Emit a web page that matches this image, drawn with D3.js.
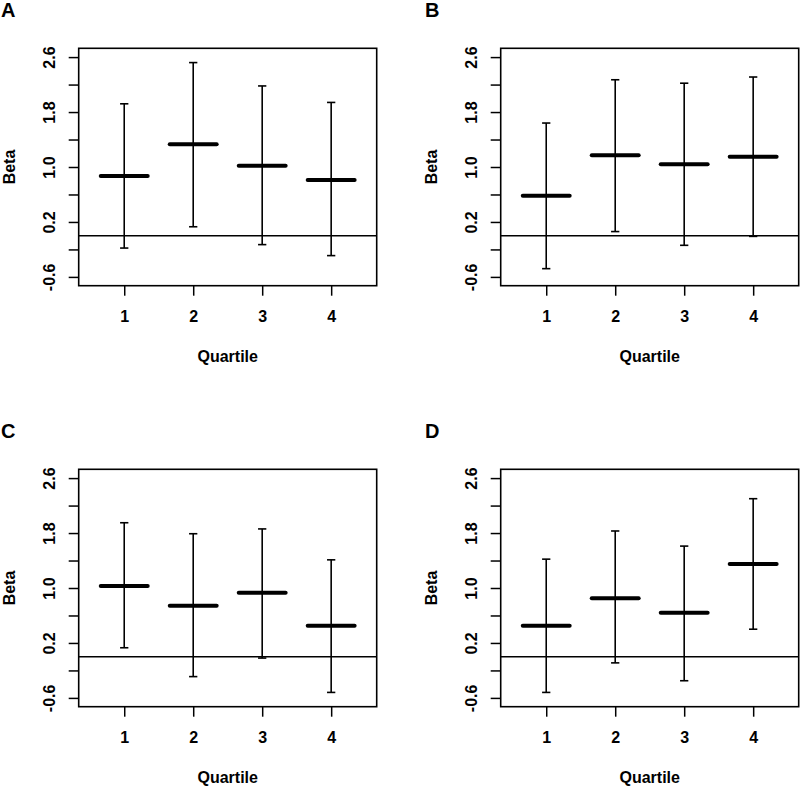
<!DOCTYPE html>
<html lang="en">
<head>
    <meta charset="UTF-8">
    <script src="https://d3js.org/d3.v7.min.js"></script>
    <title>Beta by Quartile</title>
    <style>
        body { margin: 0; background: #fff; }
        text { font-family: "Liberation Sans", Arial, sans-serif; font-weight: bold; fill: #000; }
        .box { fill: none; stroke: #000; stroke-width: 1.6px; }
        .ref { stroke: #000; stroke-width: 1.5px; }
        .whisker { stroke: #000; stroke-width: 1.6px; }
        .est { stroke: #000; stroke-width: 4px; stroke-linecap: round; }
        .axis line { stroke: #000; stroke-width: 1.5px; }
    </style>
</head>
<body>
<svg id="chart" width="800" height="786"></svg>
<script>

// data
var panels = ["A", "B", "C", "D"];
var quartiles = [1, 2, 3, 4];

var estA = [0.87, 1.33, 1.02, 0.81];
var lowA = [-0.18, 0.13, -0.13, -0.29];
var highA = [1.92, 2.52, 2.18, 1.94];

var estB = [0.58, 1.17, 1.04, 1.15];
var lowB = [-0.48, 0.06, -0.14, -0.01];
var highB = [1.64, 2.27, 2.22, 2.31];

var estC = [1.03, 0.74, 0.93, 0.45];
var lowC = [0.13, -0.29, -0.02, -0.52];
var highC = [1.95, 1.79, 1.86, 1.41];

var estD = [0.45, 0.85, 0.64, 1.35];
var lowD = [-0.52, -0.09, -0.35, 0.40];
var highD = [1.42, 1.83, 1.61, 2.30];

var yTicks = [-0.6, -0.2, 0.2, 0.6, 1.0, 1.4, 1.8, 2.2, 2.6];
var yLabels = ["-0.6", "", "0.2", "", "1.0", "", "1.8", "", "2.6"];

var allEst = [estA, estB, estC, estD];
var allLow = [lowA, lowB, lowC, lowD];
var allHigh = [highA, highB, highC, highD];

// layout
var boxW = 298, boxH = 237.4;
var boxLeft = 78.7, boxTop = 48.3;
var panelDX = 422, panelDY = 421;

var x = d3.scaleLinear().domain([0.34, 4.66]).range([0, boxW]);
var y = d3.scaleLinear().domain([-0.728, 2.728]).range([boxH, 0]);

var svg = d3.select("#chart");

panels.forEach(function(p, i) {
    var ox = (i % 2) * panelDX;
    var oy = Math.floor(i / 2) * panelDY;

    var panel = svg.append("g").attr("transform", "translate(" + ox + "," + oy + ")");

    panel.append("text")
        .attr("x", i % 2 ? 3 : 1)
        .attr("y", 17)
        .style("font-size", "20px")
        .text(p);

    var g = panel.append("g").attr("transform", "translate(" + boxLeft + "," + boxTop + ")");

    // y axis
    var yAxis = d3.axisLeft(y).tickValues(yTicks).tickSize(10)
        .tickFormat(function(d, k) { return yLabels[k]; });
    var ya = g.append("g").attr("class", "axis").call(yAxis);
    ya.select(".domain").remove();
    ya.selectAll("text")
        .attr("transform", "rotate(-90)")
        .attr("x", 0).attr("y", -23.5).attr("dy", null)
        .attr("text-anchor", "middle")
        .style("font-size", "16px");

    // x axis
    var xAxis = d3.axisBottom(x).tickValues(quartiles).tickSize(10).tickFormat(d3.format("d"));
    var xa = g.append("g").attr("class", "axis")
        .attr("transform", "translate(0," + boxH + ")").call(xAxis);
    xa.select(".domain").remove();
    xa.selectAll("text").attr("y", 36).attr("dy", null).style("font-size", "16px");

    // axis titles
    g.append("text")
        .attr("transform", "translate(-64," + (boxH / 2) + ") rotate(-90)")
        .attr("text-anchor", "middle")
        .style("font-size", "16px")
        .text("Beta");
    g.append("text")
        .attr("x", boxW / 2).attr("y", boxH + 76)
        .attr("text-anchor", "middle")
        .style("font-size", "16px")
        .text("Quartile");

    // reference line at 0
    g.append("line").attr("class", "ref")
        .attr("x1", 0).attr("x2", boxW)
        .attr("y1", y(0)).attr("y2", y(0));

    var rows = quartiles.map(function(q, k) {
        return { q: q, est: allEst[i][k], low: allLow[i][k], high: allHigh[i][k] };
    });

    // whiskers
    g.selectAll("line.whisker-v").data(rows).join("line")
        .attr("class", "whisker")
        .attr("x1", d => x(d.q)).attr("x2", d => x(d.q))
        .attr("y1", d => y(d.low)).attr("y2", d => y(d.high));
    g.selectAll("line.cap-top").data(rows).join("line")
        .attr("class", "whisker")
        .attr("x1", d => x(d.q - 0.06)).attr("x2", d => x(d.q + 0.06))
        .attr("y1", d => y(d.high)).attr("y2", d => y(d.high));
    g.selectAll("line.cap-bot").data(rows).join("line")
        .attr("class", "whisker")
        .attr("x1", d => x(d.q - 0.06)).attr("x2", d => x(d.q + 0.06))
        .attr("y1", d => y(d.low)).attr("y2", d => y(d.low));

    // estimates
    g.selectAll("line.est").data(rows).join("line")
        .attr("class", "est")
        .attr("x1", d => x(d.q - 0.34)).attr("x2", d => x(d.q + 0.34))
        .attr("y1", d => y(d.est)).attr("y2", d => y(d.est));

    // box
    g.append("rect").attr("class", "box")
        .attr("x", 0).attr("y", 0).attr("width", boxW).attr("height", boxH);
});

</script>
</body>
</html>
